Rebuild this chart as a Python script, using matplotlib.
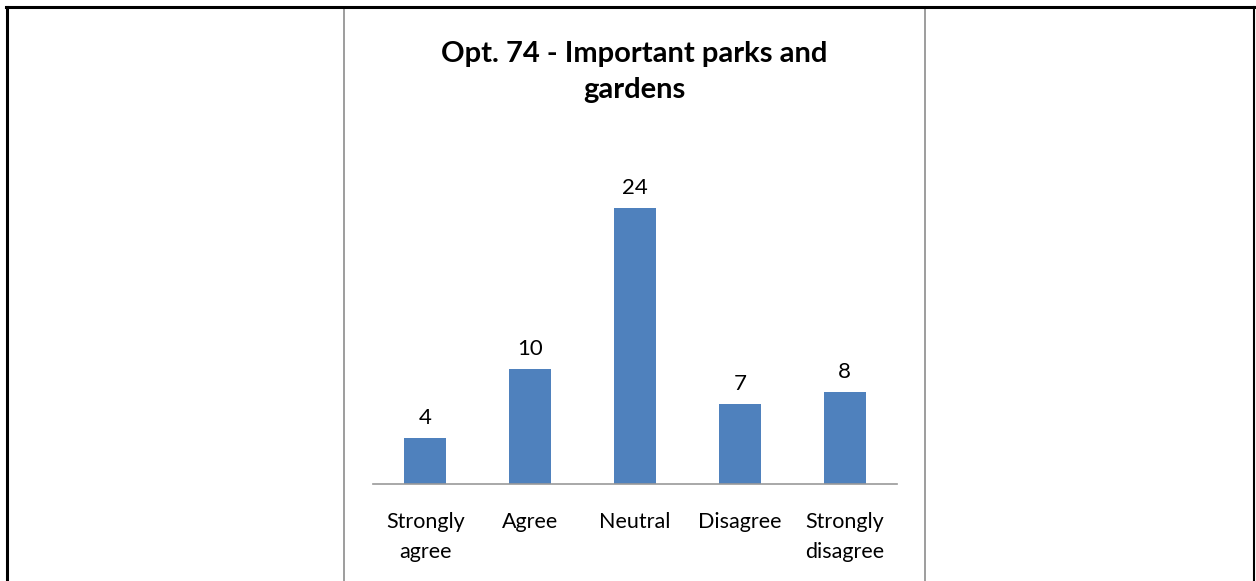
import matplotlib.pyplot as plt
from matplotlib.lines import Line2D
from matplotlib.patches import Rectangle

# data
categories = ['Strongly\nagree', 'Agree', 'Neutral', 'Disagree', 'Strongly\ndisagree']
counts = [4, 10, 24, 7, 8]
title = 'Opt. 74 - Important parks and\ngardens'

W, H = 1256, 581
fig = plt.figure(figsize=(W / 100, H / 100), dpi=100)
plt.rcParams['font.family'] = ['Lato', 'DejaVu Sans']

# page table borders (black) and chart frame (gray)
fig.add_artist(Line2D([6 / W, 1], [1 - 6.5 / H, 1 - 6.5 / H], color='black', lw=2.2))
fig.add_artist(Line2D([7 / W, 7 / W], [0, 1 - 6.5 / H], color='black', lw=2.2))
fig.add_artist(Line2D([1254 / W, 1254 / W], [0, 1 - 6.5 / H], color='black', lw=1.5))
fig.add_artist(Rectangle((343.5 / W, -0.01), (925.5 - 343.5) / W, 1 - 7.5 / H + 0.01,
                         fill=False, edgecolor='#8c8c8c', lw=1.2))

# axes placed in pixel coordinates
left, right, base, top = 373, 897, 484, 162
ax = fig.add_axes([left / W, (H - base) / H, (right - left) / W, (base - top) / H])
x = range(len(categories))
bars = ax.bar(x, counts, width=0.4, color='#4F81BD')
ax.set_xlim(-0.5, len(categories) - 0.5)
ax.set_ylim(0, 28)
for spine in ['top', 'right', 'left']:
    ax.spines[spine].set_visible(False)
ax.spines['bottom'].set_color('#999999')
ax.spines['bottom'].set_linewidth(1.2)
ax.set_yticks([])
ax.set_xticks(list(x))
ax.set_xticklabels(categories, fontsize=15.5, linespacing=1.65)
ax.tick_params(axis='x', length=0, pad=20)
ax.set_facecolor('none')

for b, v in zip(bars, counts):
    ax.annotate(str(v), (b.get_x() + b.get_width() / 2, v), xytext=(0, 7),
                textcoords='offset points', ha='center', va='bottom', fontsize=16)

fig.text(634.5 / W, 1 - 72 / H, title, ha='center', va='center', fontsize=21,
         fontweight='bold', linespacing=1.45)

fig.savefig('out.png', dpi=100)
